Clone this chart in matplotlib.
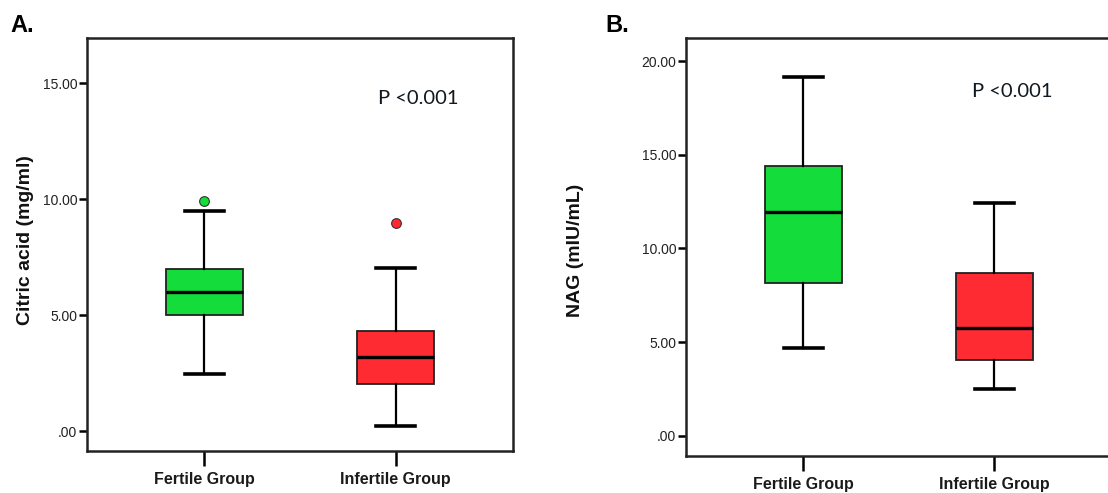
import matplotlib.pyplot as plt

groups = ['Fertile Group', 'Infertile Group']
box_colors = ['#14dc3a', '#ff2b33']

# Citric acid (mg/ml)
citric_q1 = [5.0, 2.03]
citric_med = [6.0, 3.19]
citric_q3 = [7.0, 4.31]
citric_lo = [2.45, 0.22]
citric_hi = [9.5, 7.03]
citric_out = [[9.9], [8.97]]
citric_ticks = [0, 5, 10, 15]

# NAG (mIU/mL)
nag_q1 = [8.16, 4.05]
nag_med = [11.95, 5.76]
nag_q3 = [14.4, 8.69]
nag_lo = [4.69, 2.5]
nag_hi = [19.15, 12.43]
nag_out = [[], []]
nag_ticks = [0, 5, 10, 15, 20]

tick_font = ['Liberation Sans', 'DejaVu Sans']


def make_stats(q1, med, q3, lo, hi, out):
    stats = []
    for i in range(len(groups)):
        stats.append({'q1': q1[i], 'med': med[i], 'q3': q3[i],
                      'whislo': lo[i], 'whishi': hi[i], 'fliers': out[i]})
    return stats


def draw_panel(ax, stats, ticks, ylim, ylabel, letter, ptext_xy, letter_xy, ylabel_xy):
    bp = ax.bxp(stats, positions=[1, 2], widths=0.4, patch_artist=True,
                showfliers=True,
                boxprops=dict(linewidth=1.3, edgecolor='#222222'),
                medianprops=dict(color='black', linewidth=2.4),
                whiskerprops=dict(color='black', linewidth=1.6),
                capprops=dict(color='black', linewidth=2.6),
                capwidths=0.2)
    for patch, c in zip(bp['boxes'], box_colors):
        patch.set_facecolor(c)
    for fl, c in zip(bp['fliers'], box_colors):
        fl.set(marker='o', markerfacecolor=c, markeredgecolor='#333333',
               markersize=7, markeredgewidth=0.8)

    ax.set_xlim(0.385, 2.615)
    ax.set_ylim(*ylim)
    ax.set_yticks(ticks)
    ax.set_yticklabels(['.00' if t == 0 else '%.2f' % t for t in ticks],
                       family=tick_font, fontsize=10, color='#222222')
    ax.set_xticks([1, 2])
    ax.set_xticklabels(groups, family=tick_font, fontsize=11.5,
                       fontweight='bold', color='#1a1a1a')
    ax.tick_params(axis='y', length=6, width=1.8, pad=1)
    ax.tick_params(axis='x', length=11, width=1.8, pad=4)
    for s in ax.spines.values():
        s.set_linewidth(1.8)
        s.set_color('#222222')

    fig.text(ylabel_xy[0], ylabel_xy[1], ylabel, rotation=90, fontsize=14,
             fontweight='bold', family='Liberation Sans', ha='center',
             va='center', color='#111111')
    fig.text(letter_xy[0], letter_xy[1], letter, fontsize=17, fontweight='bold',
             family='Liberation Sans', ha='left', va='center', color='black')
    fig.text(ptext_xy[0], ptext_xy[1], 'P <0.001', fontsize=14.5,
             family='Lato', ha='left', va='center', color='#101820')


fig = plt.figure(figsize=(11.08, 4.93), dpi=100)
ax1 = fig.add_axes([0.0785, 0.0852, 0.3845, 0.8377])
ax2 = fig.add_axes([0.6191, 0.0751, 0.3845, 0.8479])

draw_panel(ax1, make_stats(citric_q1, citric_med, citric_q3, citric_lo, citric_hi, citric_out),
           citric_ticks, (-0.86, 16.94), 'Citric acid (mg/ml)', 'A.',
           (378 / 1108, 1 - 98 / 493), (10 / 1108, 1 - 25 / 493), (26 / 1108, 1 - 240 / 493))
draw_panel(ax2, make_stats(nag_q1, nag_med, nag_q3, nag_lo, nag_hi, nag_out),
           nag_ticks, (-1.07, 21.23), 'NAG (mIU/mL)', 'B.',
           (972 / 1108, 1 - 92 / 493), (605 / 1108, 1 - 25 / 493), (575 / 1108, 1 - 250 / 493))

fig.savefig('out.png', dpi=100)
